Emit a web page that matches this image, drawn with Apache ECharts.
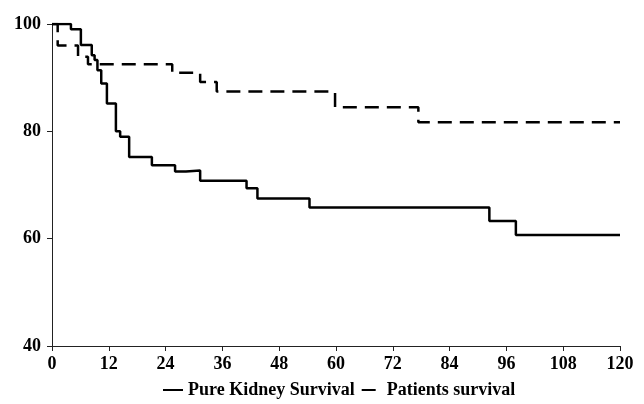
<!DOCTYPE html>
<html>
<head>
<meta charset="utf-8">
<script src="https://cdn.jsdelivr.net/npm/echarts@6/dist/echarts.min.js"></script>
<style>
  html, body { margin: 0; padding: 0; background: #fff; }
  #chart { width: 644px; height: 404px; }
</style>
</head>
<body>
<div id="chart"></div>
<script>
// months after transplant, survival (%) after each step
const kidneyTimes = [0, 4.0, 6.1, 8.4, 9.0, 9.6, 10.4, 11.6, 13.5, 14.4, 16.3, 21.1, 26.0, 28.3, 31.3, 41.1, 43.4, 54.4, 92.4, 98.0, 120];
const kidneyValues = [100, 99.0, 96.1, 94.2, 93.3, 91.4, 88.9, 85.2, 80.0, 79.0, 75.2, 73.7, 72.5, 72.7, 70.8, 69.4, 67.5, 65.8, 63.3, 60.7, 60.7];
const patientTimes = [0, 1.2, 5.5, 7.6, 25.4, 31.3, 34.8, 59.8, 77.4, 120];
const patientValues = [100, 96.0, 93.9, 92.5, 90.9, 89.2, 87.4, 84.5, 81.7, 81.7];
const xTicks = [0, 12, 24, 36, 48, 60, 72, 84, 96, 108, 120];
const yTicks = [40, 60, 80, 100];

const pairs = (xs, ys) => xs.map((x, i) => [x, ys[i]]);
const font = 'Liberation Serif';

const chart = echarts.init(document.getElementById('chart'), null, { width: 644, height: 404 });
chart.setOption({
  animation: false,
  textStyle: { fontFamily: font, fontWeight: 'bold', color: '#000' },
  grid: { left: 52, right: 24, top: 24, bottom: 58, containLabel: false },
  legend: {
    left: 157,
    top: 376,
    itemWidth: 20,
    itemHeight: 10,
    itemGap: 6,
    itemStyle: { opacity: 0 },
    textStyle: { fontFamily: font, fontWeight: 'bold', fontSize: 18, color: '#000' },
    data: ['Pure Kidney Survival', 'Patients survival'],
  },
  xAxis: {
    type: 'value',
    min: xTicks[0],
    max: xTicks[xTicks.length - 1],
    interval: 12,
    splitLine: { show: false },
    axisLine: { lineStyle: { color: '#222', width: 1 } },
    axisTick: { length: 5, lineStyle: { color: '#222' } },
    axisLabel: { margin: 9, fontFamily: font, fontWeight: 'bold', fontSize: 18, color: '#000' },
  },
  yAxis: {
    type: 'value',
    min: yTicks[0],
    max: yTicks[yTicks.length - 1],
    interval: 20,
    splitLine: { show: false },
    axisLine: { show: true, lineStyle: { color: '#222', width: 1 } },
    axisTick: { show: true, length: 5, lineStyle: { color: '#222' } },
    axisLabel: { margin: 11, fontFamily: font, fontWeight: 'bold', fontSize: 18, color: '#000' },
  },
  series: [
    {
      name: 'Pure Kidney Survival',
      type: 'line',
      step: 'end',
      symbol: 'none',
      data: pairs(kidneyTimes, kidneyValues),
      lineStyle: { color: '#000', width: 2.5 },
      itemStyle: { color: '#000' },
    },
    {
      name: 'Patients survival',
      type: 'line',
      step: 'end',
      symbol: 'none',
      data: pairs(patientTimes, patientValues),
      lineStyle: { color: '#000', width: 2.5, type: [14, 8] },
      itemStyle: { color: '#000' },
    },
  ],
});
</script>
</body>
</html>
